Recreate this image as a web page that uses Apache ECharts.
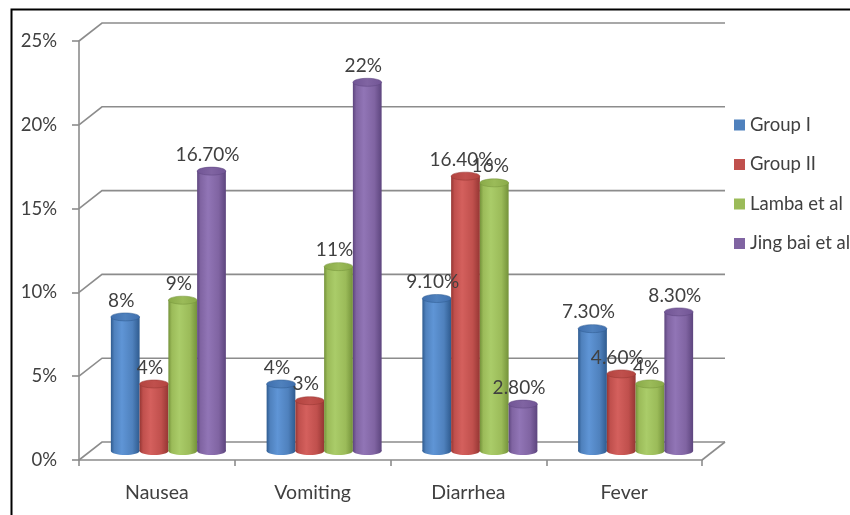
<!DOCTYPE html>
<html>
<head>
<meta charset="utf-8">
<script src="https://cdn.jsdelivr.net/npm/echarts@6/dist/echarts.min.js"></script>
<style>
  html, body { margin: 0; padding: 0; background: #fff; }
  #chart { width: 850px; height: 515px; }
</style>
</head>
<body>
<div id="chart"></div>
<script>
// Adverse effects by study group
const categories = ['Nausea', 'Vomiting', 'Diarrhea', 'Fever'];
const seriesNames = ['Group I', 'Group II', 'Lamba et al', 'Jing bai et al'];
const groupI = [8, 4, 9.1, 7.3];
const groupII = [4, 3, 16.4, 4.6];
const lamba = [9, 11, 16, 4];
const jingBai = [16.7, 22, 2.8, 8.3];
const yTicks = [0, 5, 10, 15, 20, 25];

const allValues = [groupI, groupII, lamba, jingBai];

// base colour, dark edge, highlight, top face
const palettes = [
  { base: '#4F81BD', dark: '#2f5b8f', light: '#5f95d6', top: '#3f6fae' },
  { base: '#C0504D', dark: '#953633', light: '#d4605d', top: '#b3443f' },
  { base: '#9BBB59', dark: '#74923a', light: '#aacc69', top: '#89aa48' },
  { base: '#8064A2', dark: '#5d457e', light: '#9175b6', top: '#715595' }
];

// pseudo-3D depth of the plot box
const DEPTH_X = 23, DEPTH_Y = -18;
const BAR_FRAC = 0.1846;
const TEXT = '#404040';
const FONT = 'Lato';
const GRIDLINE = '#8c8c8c';

function fmt(v) {
  return (v % 1 === 0 ? String(v) : v.toFixed(2)) + '%';
}

function wallItem(params, api) {
  const cs = params.coordSys;
  const v = api.value(1);
  const y = api.coord([0, v])[1];
  const x0 = cs.x, x1 = cs.x + cs.width;
  const children = [{
    type: 'polyline',
    shape: { points: [[x0, y], [x0 + DEPTH_X, y + DEPTH_Y], [x1 + DEPTH_X, y + DEPTH_Y]] },
    style: { stroke: GRIDLINE, lineWidth: 1.6, fill: null }
  }];
  if (v === 0) {
    children.push({
      type: 'line',
      shape: { x1: x1, y1: y, x2: x1 + DEPTH_X, y2: y + DEPTH_Y },
      style: { stroke: GRIDLINE, lineWidth: 1.6 }
    });
  }
  return { type: 'group', children: children };
}

function makeBarRenderer(idx) {
  const pal = palettes[idx];
  return function (params, api) {
    const cat = api.value(0);
    const val = api.value(1);
    const base = api.coord([cat, 0]);
    const top = api.coord([cat, val]);
    const band = api.size([1, 0])[0];
    const bw = band * BAR_FRAC;
    const dx = DEPTH_X / 2, dy = DEPTH_Y / 2;
    const cx = base[0] + dx + (idx - 1.5) * bw;
    const yb = base[1] + dy;
    const yt = top[1] + dy;
    const rx = bw / 2, ry = 4;
    const bodyFill = new echarts.graphic.LinearGradient(0, 0, 1, 0, [
      { offset: 0, color: pal.dark },
      { offset: 0.12, color: pal.base },
      { offset: 0.38, color: pal.light },
      { offset: 0.75, color: pal.base },
      { offset: 1, color: pal.dark }
    ]);
    const topFill = new echarts.graphic.LinearGradient(0, 0, 1, 0, [
      { offset: 0, color: pal.top },
      { offset: 0.5, color: pal.base },
      { offset: 1, color: pal.top }
    ]);
    return {
      type: 'group',
      children: [
        {
          type: 'ellipse',
          shape: { cx: cx, cy: yb, rx: rx, ry: ry },
          style: { fill: bodyFill }
        },
        {
          type: 'rect',
          shape: { x: cx - rx, y: yt, width: bw, height: yb - yt },
          style: { fill: bodyFill }
        },
        {
          type: 'ellipse',
          shape: { cx: cx, cy: yt, rx: rx, ry: ry },
          style: { fill: topFill, stroke: pal.dark, lineWidth: 0.5 }
        },
        {
          type: 'text',
          z2: 100,
          style: {
            x: cx - 4,
            y: yt - 7,
            text: fmt(val),
            fill: TEXT,
            font: '19px ' + FONT,
            textAlign: 'center',
            textVerticalAlign: 'bottom'
          }
        }
      ]
    };
  };
}

const barSeries = seriesNames.map(function (name, i) {
  return {
    name: name,
    type: 'custom',
    renderItem: makeBarRenderer(i),
    itemStyle: { color: palettes[i].base },
    encode: { x: 0, y: 1 },
    data: allValues[i].map(function (v, c) { return [c, v]; }),
    z: 3
  };
});

const chart = echarts.init(document.getElementById('chart'), null, { renderer: 'canvas' });
chart.setOption({
  backgroundColor: '#ffffff',
  animation: false,
  textStyle: { fontFamily: FONT, color: TEXT },
  graphic: [{
    type: 'rect',
    left: 9, top: 7,
    shape: { width: 900, height: 600 },
    style: { fill: null, stroke: '#000', lineWidth: 2 },
    silent: true
  }],
  grid: { left: 79, top: 41, width: 623, height: 419, containLabel: false },
  legend: {
    data: seriesNames,
    orient: 'vertical',
    left: 729,
    top: 109,
    icon: 'rect',
    itemWidth: 11,
    itemHeight: 11,
    itemGap: 17.5,
    textStyle: { fontFamily: FONT, fontSize: 18.5, color: TEXT, lineHeight: 22 }
  },
  xAxis: {
    type: 'category',
    data: categories,
    boundaryGap: true,
    axisLine: { show: true, lineStyle: { color: GRIDLINE, width: 1.6 } },
    axisTick: { show: true, length: 6, lineStyle: { color: GRIDLINE, width: 1.6 } },
    axisLabel: { margin: 23, fontSize: 19.5, fontFamily: FONT, color: TEXT },
    splitLine: { show: false }
  },
  yAxis: {
    type: 'value',
    min: 0,
    max: 25,
    interval: 5,
    axisLine: { show: true, lineStyle: { color: GRIDLINE, width: 1.6 } },
    axisTick: { show: true, length: 7, lineStyle: { color: GRIDLINE, width: 1.6 } },
    axisLabel: { margin: 22, fontSize: 18.5, fontFamily: FONT, color: TEXT, formatter: '{value}%' },
    splitLine: { show: false }
  },
  series: [{
    name: 'walls',
    type: 'custom',
    silent: true,
    renderItem: wallItem,
    encode: { x: 0, y: 1 },
    data: yTicks.map(function (v) { return [0, v]; }),
    z: 1
  }].concat(barSeries)
});
</script>
</body>
</html>
